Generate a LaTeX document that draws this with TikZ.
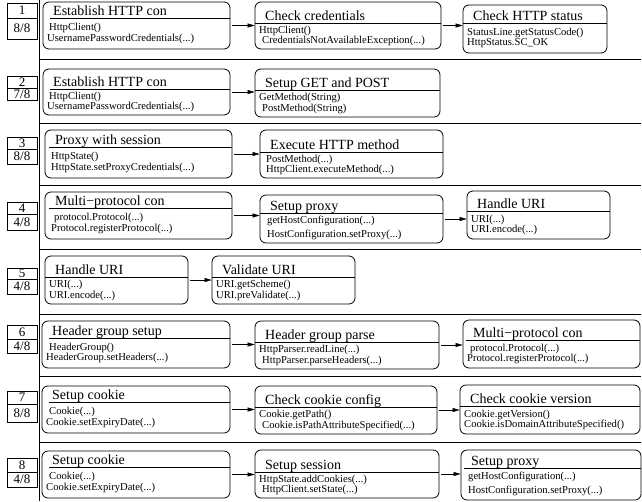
\documentclass[tikz,border=0pt]{standalone}
\usepackage{fontspec}
\setmainfont{Liberation Serif}
\usetikzlibrary{arrows.meta, fit}

\tikzset{
  callframe/.style={draw, rounded corners=6pt, line width=0.8pt, inner sep=0pt},
  calltitle/.style={anchor=base west, inner sep=0pt, font=\fontsize{14}{16}\selectfont},
  callbody/.style={anchor=west, inner sep=0pt, align=left, font=\fontsize{10.6}{9}\selectfont},
  idcell/.style={draw, line width=0.8pt, inner sep=0pt, minimum width=30pt, font=\fontsize{13}{14}\selectfont},
}

% [#1] 分隔线缩进, #2 名字, #3-#6 x1 y1 x2 y2, #7 分隔线 y, #8 标题, #9 内容
\newcommand{\callbox}[9][0]{%
  \node[callframe, fit={(#3,#4) (#5,#6)}] (#2) {};
  \draw[line width=0.8pt] (#3+#1,#7) -- (#5,#7);
  \node[calltitle] (#2-t) at (#3+10,#7-2.5) {#8};
  \node[callbody] (#2-b) at (#3+4,{(#7+#6)/2}) {#9};
}
% #1 名字, #2 上, #3 中, #4 下, #5 编号, #6 分数
\newcommand{\idbox}[6]{%
  \node[idcell, minimum height={(#3-#2)*1pt}] (#1-n) at (22,{(#2+#3)/2}) {#5};
  \node[idcell, minimum height={(#4-#3)*1pt}] (#1-f) at (22,{(#3+#4)/2}) {#6};
}

\begin{document}
\begin{tikzpicture}[x=1pt, y=-1pt, >={Triangle[length=7pt,width=4pt]}]
    \useasboundingbox (0,0) rectangle (642,501);
    % 左侧编号
    \idbox{id1}{3}{18}{39}{1}{8/8}
    \idbox{id2}{76}{88}{100}{2}{7/8}
    \idbox{id3}{137}{149}{164}{3}{8/8}
    \idbox{id4}{202}{214}{230}{4}{4/8}
    \idbox{id5}{268}{279}{294}{5}{4/8}
    \idbox{id6}{325}{339}{353}{6}{4/8}
    \idbox{id7}{391}{404}{422}{7}{8/8}
    \idbox{id8}{458}{472}{487}{8}{4/8}
    % 分隔线
    \draw[line width=0.8pt] (39,0) -- (39,501);
    \draw[line width=0.8pt] (39,59) -- (641,59) (39,123) -- (641,123) (39,185) -- (641,185)
        (39,249) -- (641,249) (39,314) -- (641,314) (39,376) -- (641,376) (39,442) -- (641,442);
    % 第一行
    \callbox[7]{r1a}{43}{2}{230}{49}{18}{Establish HTTP con}{\hspace*{2pt}HttpClient()\\UsernamePasswordCredentials(...)}
    \callbox{r1b}{255}{2}{441}{49}{23}{Check credentials}{HttpClient()\\\hspace*{3pt}CredentialsNotAvailableException(...)}
    \callbox{r1c}{463}{5}{607}{53}{23}{Check HTTP status}{StatusLine.getStatusCode()\\HttpStatus.SC\_OK}
    \draw[->, shorten <=2pt] (r1a.east) -- (r1a.east -| r1b.west);
    \draw[->, shorten <=2pt] (r1b.east) -- (r1b.east -| r1c.west);
    % 第二行
    \callbox[7]{r2a}{43}{69}{230}{115}{89}{Establish HTTP con}{\hspace*{2pt}HttpClient()\\UsernamePasswordCredentials(...)}
    \callbox{r2b}{255}{69}{440}{117}{90}{Setup GET and POST}{GetMethod(String)\\\hspace*{3pt}PostMethod(String)}
    \draw[->, shorten <=2pt] (r2a.east) -- (r2a.east -| r2b.west);
    % 第三行
    \callbox[4]{r3a}{45}{130}{232}{178}{147}{Proxy with session}{\hspace*{2pt}HttpState()\\\hspace*{2pt}HttpState.setProxyCredentials(...)}
    \callbox{r3b}{260}{130}{443}{178}{152}{Execute HTTP method}{\hspace*{2pt}PostMethod(...)\\\hspace*{2pt}HttpClient.executeMethod(...)}
    \draw[->, shorten <=2pt] (r3a.east) -- (r3a.east -| r3b.west);
    % 第四行
    \callbox[4]{r4a}{45}{192}{232}{239}{208}{Multi\textminus protocol con}{\hspace*{5pt}protocol.Protocol(...)\\\hspace*{2pt}Protocol.registerProtocol(...)}
    \callbox{r4b}{260}{195}{443}{243}{213}{Setup proxy}{\hspace*{3pt}getHostConfiguration(...)\\[3pt]\hspace*{3pt}HostConfiguration.setProxy(...)}
    \callbox{r4c}{467}{191}{610}{239}{211}{Handle URI}{URI(...)\\URI.encode(...)}
    \draw[->, shorten <=2pt] (r4a.east) -- (r4a.east -| r4b.west);
    \draw[->, shorten <=2pt] (r4b.east) -- (r4b.east -| r4c.west);
    % 第五行
    \callbox{r5a}{45}{256}{188}{304}{277}{Handle URI}{URI(...)\\URI.encode(...)}
    \callbox{r5b}{212}{256}{355}{304}{277}{Validate URI}{URI.getScheme()\\URI.preValidate(...)}
    \draw[->, shorten <=2pt] (r5a.east) -- (r5a.east -| r5b.west);
    % 第六行
    \callbox[7]{r6a}{42}{321}{230}{368}{338}{Header group setup}{\hspace*{3pt}HeaderGroup()\\HeaderGroup.setHeaders(...)}
    \callbox{r6b}{255}{321}{439}{369}{342}{Header group parse}{HttpParser.readLine(...)\\\hspace*{3pt}HttpParser.parseHeaders(...)}
    \callbox[3]{r6c}{463}{320}{640}{368}{340}{Multi\textminus protocol con}{\hspace*{3pt}protocol.Protocol(...)\\Protocol.registerProtocol(...)}
    \draw[->, shorten <=2pt] (r6a.east) -- (r6a.east -| r6b.west);
    \draw[->, shorten <=2pt] (r6b.east) -- (r6b.east -| r6c.west);
    % 第七行
    \callbox[7]{r7a}{42}{386}{230}{433}{402}{Setup cookie}{\hspace*{3pt}Cookie(...)\\Cookie.setExpiryDate(...)}
    \callbox{r7b}{255}{386}{437}{434}{407}{Check cookie config}{Cookie.getPath()\\\hspace*{3pt}Cookie.isPathAttributeSpecified(...)}
    \callbox{r7c}{460}{385}{640}{434}{406}{Check cookie version}{Cookie.getVersion()\\Cookie.isDomainAttributeSpecified()}
    \draw[->, shorten <=2pt] (r7a.east) -- (r7a.east -| r7b.west);
    \draw[->, shorten <=2pt] (r7b.east) -- (r7b.east -| r7c.west);
    % 第八行
    \callbox[7]{r8a}{42}{451}{230}{498}{467}{Setup cookie}{\hspace*{3pt}Cookie(...)\\Cookie.setExpiryDate(...)}
    \callbox{r8b}{255}{450}{439}{498}{472}{Setup session}{HttpState.addCookies(...)\\\hspace*{3pt}HttpClient.setState(...)}
    \callbox[3]{r8c}{461}{450}{641}{500}{468}{Setup proxy}{\hspace*{3pt}getHostConfiguration(...)\\[3pt]\hspace*{3pt}HostConfiguration.setProxy(...)}
    \draw[->, shorten <=2pt] (r8a.east) -- (r8a.east -| r8b.west);
    \draw[->, shorten <=2pt] (r8b.east) -- (r8b.east -| r8c.west);
\end{tikzpicture}
\end{document}
